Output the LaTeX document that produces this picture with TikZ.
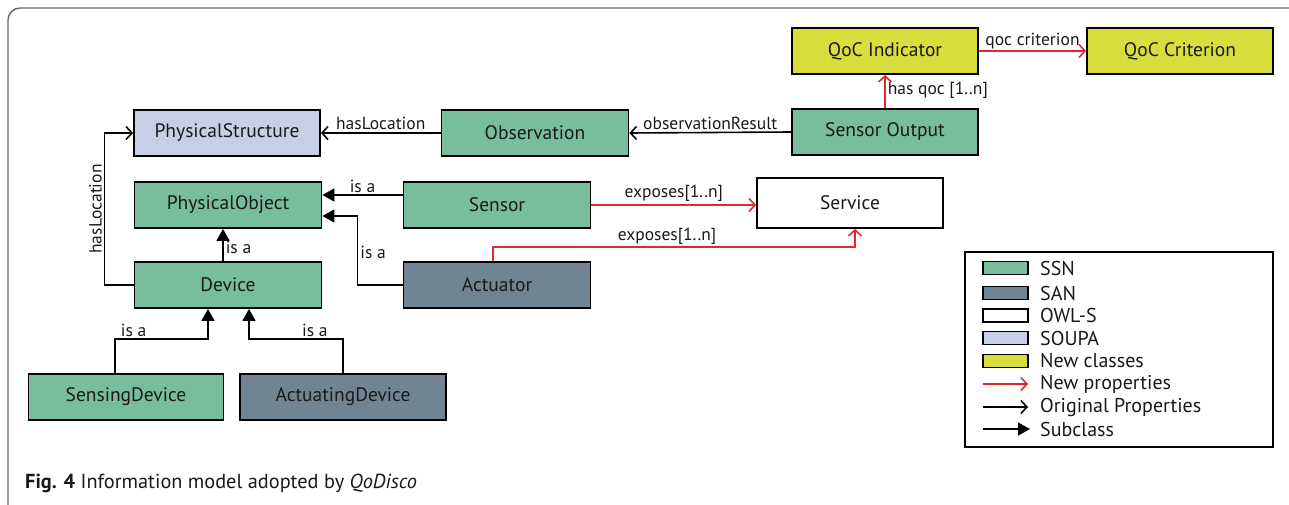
\documentclass[tikz,border=0pt]{standalone}
\usepackage{fontspec}
\setmainfont{PT Sans}
\usetikzlibrary{arrows.meta,calc}
\definecolor{ssn}{HTML}{78BD9E}
\definecolor{san}{HTML}{6F8593}
\definecolor{soupa}{HTML}{C8CEE6}
\definecolor{newc}{HTML}{D9DE3F}
\definecolor{newp}{HTML}{E0282E}
\definecolor{frame}{HTML}{666666}
\tikzset{
  box/.style={draw=black, line width=1.8pt, minimum height=46pt, inner sep=0pt, font=\fontsize{19.5}{22}\selectfont, text=black!90},
  ssnbox/.style={box, fill=ssn},
  sanbox/.style={box, fill=san},
  owlbox/.style={box, fill=white},
  soupabox/.style={box, fill=soupa},
  newbox/.style={box, fill=newc},
  lbl/.style={font=\fontsize{17.5}{20}\selectfont, text=black!90, inner sep=2pt},
  orig/.style={line width=1.6pt, -{Straight Barb[length=6pt,width=13pt,line width=1.6pt]}},
  newprop/.style={line width=1.6pt, draw=newp, -{Straight Barb[length=6pt,width=13pt,line width=1.6pt]}},
  sub/.style={line width=1.6pt, -{Triangle[length=12pt,width=13pt]}},
  swatch/.style={draw=black, line width=1.6pt, minimum width=45pt, minimum height=13pt, inner sep=0pt},
  legtext/.style={font=\fontsize{20}{22}\selectfont, text=black!90, anchor=west, inner sep=0pt},
}
\begin{document}
\begin{tikzpicture}[x=1pt,y=-1pt]
\useasboundingbox (0,0) rectangle (1289,505);
% outer frame
\draw[frame, line width=1.4pt, rounded corners=12pt] (1295,8) -- (8,8) -- (8,510);

% nodes
\node[soupabox, minimum width=186pt] (ps) at (227,133) {PhysicalStructure};
\node[ssnbox, minimum width=187pt] (po) at (228,205) {PhysicalObject};
\node[ssnbox, minimum width=187pt] (obs) at (535,133) {Observation};
\node[ssnbox, minimum width=186pt] (so) at (885,132) {Sensor Output};
\node[newbox, minimum width=186pt] (qi) at (885,51) {QoC Indicator};
\node[newbox, minimum width=186pt] (qc) at (1180,51) {QoC Criterion};
\node[ssnbox, minimum width=187pt] (sensor) at (497,205) {Sensor};
\node[owlbox, minimum width=186pt, minimum height=50pt] (service) at (850,203) {Service};
\node[sanbox, minimum width=187pt] (act) at (497,285) {Actuator};
\node[ssnbox, minimum width=187pt] (dev) at (228,285) {Device};
\node[ssnbox, minimum width=195pt] (sd) at (126,397) {SensingDevice};
\node[sanbox, minimum width=206pt] (ad) at (343,397) {ActuatingDevice};

% connectors
\draw[orig] (obs.west) -- node[lbl, above] {hasLocation} (ps.east);
\draw[orig] (so.west) -- node[lbl, above] {observationResult} (obs.east);
\draw[newprop] (so.north) -- node[lbl, right, pos=0.55] {has qoc [1..n]} (qi.south);
\draw[newprop] (qi.east) -- node[lbl, above, yshift=-1pt] {qoc criterion} (qc.west);
\draw[sub] ([yshift=10pt]sensor.west) -- node[lbl, above, yshift=-1pt] {is a} ([yshift=10pt]sensor.west -| po.east);
\draw[sub] (act.west) -- ++(-45,0) |- node[lbl, right, pos=0.25, yshift=-2pt] {is a} ([yshift=-11pt]po.east);
\draw[sub] ([xshift=-5pt]dev.north) -- node[lbl, right, yshift=-2pt] {is a} ([xshift=-5pt]po.south);
\draw[orig] (dev.west) -- ++(-29,0) |- node[lbl, above, rotate=90, pos=0.25] {hasLocation} (ps.west);
\draw[sub] ([xshift=-11pt]sd.north) -- ++(0,-34) -| node[lbl, above, pos=0.1] {is a} ([xshift=-20pt]dev.south);
\draw[sub] (ad.north) -- ++(0,-34) -| node[lbl, above, pos=0.15] {is a} ([xshift=21pt]dev.south);
\draw[newprop] (sensor.east) -- node[lbl, above, yshift=1pt] {exposes[1..n]} (sensor.east -| service.west);
\draw[newprop] ([xshift=-4pt]act.north) -- ++(0,-14) -| ([xshift=5pt]service.south);
\node[lbl] (exp2) at (667,236) {exposes[1..n]};

% legend
\node[draw=black, line width=1.6pt, minimum width=308pt, minimum height=195pt, inner sep=0pt] (legend) at (1119,349.5) {};
\node[swatch, fill=ssn] (l1) at (1005.5,268) {};
\node[legtext] (t1) at (1040,268) {SSN};
\node[swatch, fill=san] (l2) at (1005.5,293) {};
\node[legtext] (t2) at (1040,293) {SAN};
\node[swatch, fill=white] (l3) at (1005.5,315.5) {};
\node[legtext] (t3) at (1040,315.5) {OWL-S};
\node[swatch, fill=soupa] (l4) at (1005.5,338) {};
\node[legtext] (t4) at (1040,338) {SOUPA};
\node[swatch, fill=newc] (l5) at (1005.5,361) {};
\node[legtext] (t5) at (1040,361) {New classes};
\coordinate (a6s) at (983,384); \coordinate (a6e) at (1028,384);
\draw[newprop, line width=1.2pt] (a6s) -- (a6e);
\node[legtext] (t6) at (1040,384) {New properties};
\coordinate (a7s) at (983,407); \coordinate (a7e) at (1028,407);
\draw[orig, line width=1.2pt] (a7s) -- (a7e);
\node[legtext] (t7) at (1040,407) {Original Properties};
\coordinate (a8s) at (983,429); \coordinate (a8e) at (1030,429);
\draw[sub, line width=1.2pt] (a8s) -- (a8e);
\node[legtext] (t8) at (1040,429) {Subclass};

% caption
\node[anchor=west, inner sep=0pt, font=\fontsize{20.3}{23}\selectfont, text=black!90] (cap) at (25,483) {\textbf{Fig. 4} Information model adopted by \textit{QoDisco}};
\end{tikzpicture}
\end{document}
